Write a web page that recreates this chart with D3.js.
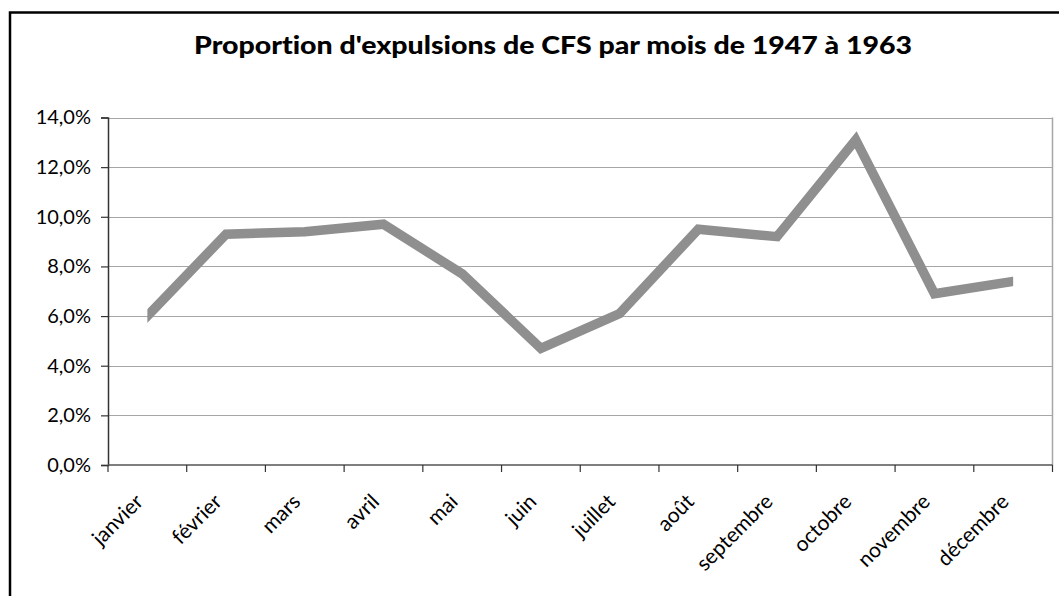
<!DOCTYPE html>
<html>
<head>
<meta charset="utf-8">
<script src="https://cdn.jsdelivr.net/npm/d3@7"></script>
<style>
  html, body { margin: 0; padding: 0; background: #fff; }
  svg { display: block; }
  text { font-family: "Lato", "Open Sans", sans-serif; fill: #000; font-variant-ligatures: none; }
</style>
</head>
<body>
<svg id="chart" width="1059" height="596"></svg>
<script>
// Monthly share of expulsions, 1947–1963 (percent)
const months = ["janvier", "février", "mars", "avril", "mai", "juin",
                "juillet", "août", "septembre", "octobre", "novembre", "décembre"];
const shares = [6.0, 9.3, 9.4, 9.7, 7.7, 4.7, 6.1, 9.5, 9.2, 13.1, 6.9, 7.4];
const yTicks = [0, 2, 4, 6, 8, 10, 12, 14];
const titleText = "Proportion d'expulsions de CFS par mois de 1947 à 1963";

const svg = d3.select("#chart");
const W = 1059, H = 596;
const plot = { left: 108, right: 1052.5, top: 117.5, bottom: 465 };

// outer frame of the chart
svg.append("rect")
  .attr("x", 10).attr("y", 12.5)
  .attr("width", W + 20).attr("height", H + 20)
  .attr("fill", "#fff").attr("stroke", "#000").attr("stroke-width", 2.5);

svg.append("text")
  .attr("x", 553).attr("y", 54)
  .attr("text-anchor", "middle")
  .attr("textLength", 718)
  .attr("lengthAdjust", "spacingAndGlyphs")
  .style("font-size", "25px").style("font-weight", "900")
  .text(titleText);

const x = d3.scaleBand().domain(months).range([plot.left, plot.right]).padding(0);
const y = d3.scaleLinear().domain([0, 14]).range([plot.bottom, plot.top]);
const cx = m => x(m) + x.bandwidth() / 2;

// horizontal gridlines
svg.append("g").selectAll("line").data(yTicks.filter(t => t > 0)).join("line")
  .attr("x1", plot.left).attr("x2", plot.right)
  .attr("y1", d => Math.round(y(d)) + 0.5).attr("y2", d => Math.round(y(d)) + 0.5)
  .attr("stroke", "#a6a6a6").attr("stroke-width", 1);

// right edge of the plot area
svg.append("line")
  .attr("x1", plot.right).attr("x2", plot.right)
  .attr("y1", plot.top).attr("y2", plot.bottom)
  .attr("stroke", "#a6a6a6").attr("stroke-width", 1.5);

// y axis
const yAxis = d3.axisLeft(y).tickValues(yTicks).tickSize(7).tickPadding(10)
  .tickFormat(d => d3.format(".1f")(d).replace(".", ",") + "%");
const gy = svg.append("g").attr("transform", `translate(${plot.left},0)`).call(yAxis);
gy.select(".domain").attr("stroke", "#333").attr("stroke-width", 1.5);
gy.selectAll(".tick line").attr("stroke", "#333").attr("stroke-width", 1.2);
gy.selectAll(".tick text").style("font-size", "20px").style("font-family", "Lato");

// x axis: ticks on category boundaries
const boundaries = months.map(m => x(m)).concat([plot.right]);
const gx = svg.append("g");
gx.append("line")
  .attr("x1", plot.left).attr("x2", plot.right)
  .attr("y1", plot.bottom).attr("y2", plot.bottom)
  .attr("stroke", "#555").attr("stroke-width", 1.5);
gx.selectAll("line.tick").data(boundaries).join("line")
  .attr("class", "tick")
  .attr("x1", d => d).attr("x2", d => d)
  .attr("y1", plot.bottom).attr("y2", plot.bottom + 7)
  .attr("stroke", "#333").attr("stroke-width", 1.2);
gx.selectAll("text").data(months).join("text")
  .attr("transform", d => `translate(${cx(d) - 3},${plot.bottom + 38}) rotate(-45)`)
  .attr("text-anchor", "end")
  .style("font-size", "21px")
  .text(d => d);

// series line, clipped flat at the first and last month
svg.append("clipPath").attr("id", "lineclip")
  .append("rect")
  .attr("x", cx(months[0])).attr("y", 0)
  .attr("width", cx(months[months.length - 1]) - cx(months[0])).attr("height", H);

const line = d3.line().x((d, i) => cx(months[i])).y(d => y(d));
svg.append("path")
  .datum(shares)
  .attr("d", line)
  .attr("clip-path", "url(#lineclip)")
  .attr("fill", "none")
  .attr("stroke", "#8f8f8f")
  .attr("stroke-width", 9.5)
  .attr("stroke-linecap", "square")
  .attr("stroke-linejoin", "miter");
</script>
</body>
</html>
